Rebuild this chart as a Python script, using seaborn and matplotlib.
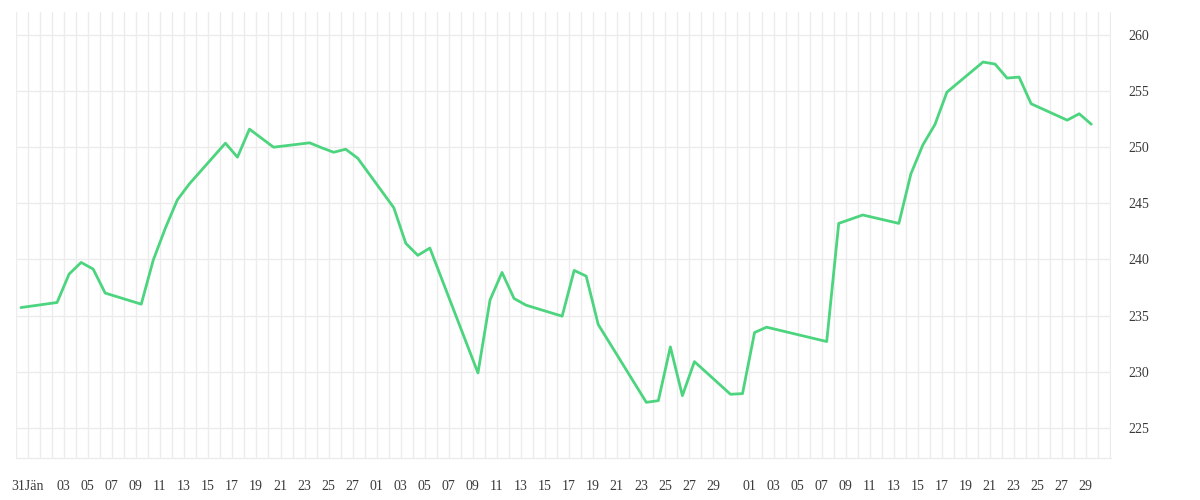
import numpy as np
import pandas as pd
import matplotlib
matplotlib.use('Agg')
import matplotlib.pyplot as plt
import matplotlib.dates as mdates
import seaborn as sns

# trading days and closing values
dates = ['2014-01-31',
         '2014-02-03', '2014-02-04', '2014-02-05', '2014-02-06', '2014-02-07',
         '2014-02-10', '2014-02-11', '2014-02-12', '2014-02-13', '2014-02-14',
         '2014-02-17', '2014-02-18', '2014-02-19', '2014-02-21',
         '2014-02-24', '2014-02-25', '2014-02-26', '2014-02-27', '2014-02-28',
         '2014-03-03', '2014-03-04', '2014-03-05', '2014-03-06',
         '2014-03-10', '2014-03-11', '2014-03-12', '2014-03-13', '2014-03-14',
         '2014-03-17', '2014-03-18', '2014-03-19', '2014-03-20',
         '2014-03-24', '2014-03-25', '2014-03-26', '2014-03-27', '2014-03-28',
         '2014-03-31', '2014-04-01', '2014-04-02', '2014-04-03',
         '2014-04-08', '2014-04-09', '2014-04-11',
         '2014-04-14', '2014-04-15', '2014-04-16', '2014-04-17', '2014-04-18',
         '2014-04-21', '2014-04-22', '2014-04-23', '2014-04-24', '2014-04-25',
         '2014-04-28', '2014-04-29', '2014-04-30']
values = [235.71,
          236.16, 238.69, 239.73, 239.14, 237.00,
          236.01, 239.94, 242.77, 245.30, 246.73,
          250.36, 249.11, 251.61, 250.00,
          250.39, 249.95, 249.55, 249.82, 249.02,
          244.61, 241.43, 240.36, 241.01,
          229.88, 236.37, 238.84, 236.52, 235.92,
          234.94, 239.02, 238.51, 234.20,
          227.26, 227.41, 232.20, 227.86, 230.89,
          227.98, 228.04, 233.48, 233.96,
          232.68, 243.21, 243.96,
          243.21, 247.62, 250.21, 252.02, 254.91,
          257.59, 257.41, 256.16, 256.25, 253.87,
          252.41, 252.98, 252.05]

# x tick labels (day of month), first one carries the month name
tick_days = {'2014-01': [31],
             '2014-02': list(range(3, 28, 2)),
             '2014-03': list(range(1, 30, 2)),
             '2014-04': list(range(1, 30, 2))}
first_label = '31Jän'
y_ticks = [225, 230, 235, 240, 245, 250, 255, 260]

LINE_COLOR = '#4cd47f'
GRID_COLOR = '#ececec'
TEXT_COLOR = '#3a3a3a'

df = pd.DataFrame({'date': pd.to_datetime(dates), 'value': values})

sns.set_style('white')
plt.rcParams['font.family'] = ['Liberation Serif', 'DejaVu Serif']

fig = plt.figure(figsize=(12, 5), dpi=100)
ax = fig.add_axes([15.7 / 1200, 42 / 500, (1110.5 - 15.7) / 1200, 446 / 500])

sns.lineplot(data=df, x='date', y='value', ax=ax, color=LINE_COLOR,
             linewidth=2.0, zorder=3)

# day grid (one line per calendar day, slightly before each data point)
start = mdates.date2num(pd.Timestamp('2014-01-31'))
all_days = start + np.arange(0, 92)
ax.set_xticks(all_days - 0.42, minor=True)
ax.grid(which='minor', axis='x', color=GRID_COLOR, linewidth=1)
ax.tick_params(axis='x', which='minor', length=7.2, width=1, color=GRID_COLOR,
               direction='out')

# labelled ticks
tick_pos, tick_lab = [], []
for month, days in tick_days.items():
    for d in days:
        tick_pos.append(mdates.date2num(pd.Timestamp(f'{month}-{d:02d}')) + 0.55)
        tick_lab.append(f'{d:02d}')
tick_lab[0] = first_label
ax.set_xticks(tick_pos)
ax.set_xticklabels(tick_lab)
ax.tick_params(axis='x', which='major', length=0, pad=15.5, labelsize=10,
               labelcolor=TEXT_COLOR)

ax.set_xlim(start - 0.44, start + 90.6)
ax.set_ylim(222.3, 262.05)
ax.set_yticks(y_ticks)
ax.yaxis.tick_right()
ax.tick_params(axis='y', length=0, pad=13, labelsize=10, labelcolor=TEXT_COLOR)
ax.grid(which='major', axis='y', color=GRID_COLOR, linewidth=1)

for side in ['top', 'right', 'left']:
    ax.spines[side].set_visible(False)
ax.spines['bottom'].set_color(GRID_COLOR)
ax.spines['bottom'].set_linewidth(1)

ax.set_xlabel('')
ax.set_ylabel('')

fig.savefig('out.png', dpi=100)
